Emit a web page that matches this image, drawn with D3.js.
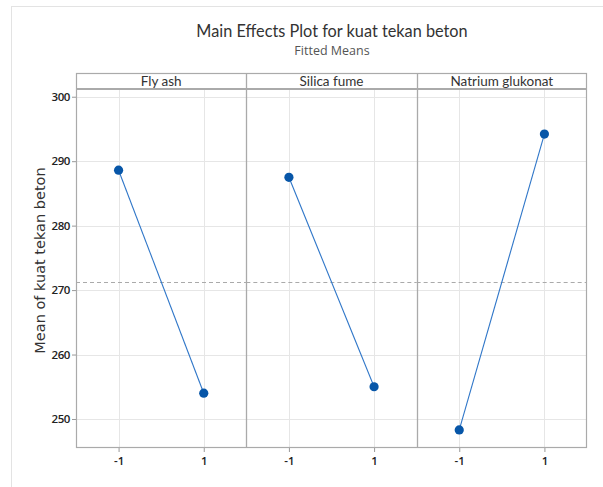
<!DOCTYPE html>
<html>
<head>
<meta charset="utf-8">
<script src="https://cdn.jsdelivr.net/npm/d3@7"></script>
<style>
  html, body { margin: 0; padding: 0; background: #fff; }
  svg { display: block; }
</style>
</head>
<body>
<script>
// Factors, their levels and the fitted means at each level
const factors = ["Fly ash", "Silica fume", "Natrium glukonat"];
const levels = [-1, 1];
const flyAshMeans = [288.6, 254.0];
const silicaFumeMeans = [287.5, 255.0];
const natriumMeans = [248.3, 294.2];
const overallMean = 271.2;
const yTicks = [250, 260, 270, 280, 290, 300];
const levelLabels = ["-1", "1"];

const seriesByFactor = [flyAshMeans, silicaFumeMeans, natriumMeans];

const W = 603, H = 487;
const plot = { left: 76, right: 587, top: 89, bottom: 448, stripTop: 73 };
const panelW = (plot.right - plot.left) / factors.length;

const svg = d3.select("body").append("svg")
  .attr("width", W).attr("height", H);

// page frame
svg.append("line").attr("x1", 11).attr("x2", W).attr("y1", 6.5).attr("y2", 6.5)
  .attr("stroke", "#e3e3e3").attr("stroke-width", 1);
svg.append("line").attr("x1", 11.5).attr("x2", 11.5).attr("y1", 6).attr("y2", H)
  .attr("stroke", "#e3e3e3").attr("stroke-width", 1);

// titles
svg.append("text").attr("x", 332).attr("y", 37)
  .attr("text-anchor", "middle")
  .style("font-family", "Lato, 'Open Sans', sans-serif")
  .style("font-size", "16.3px").style("fill", "#333")
  .text("Main Effects Plot for kuat tekan beton");
svg.append("text").attr("x", 332).attr("y", 55)
  .attr("text-anchor", "middle")
  .style("font-family", "'Open Sans', 'Noto Sans', sans-serif")
  .style("font-size", "12.5px").style("fill", "#555")
  .text("Fitted Means");

const y = d3.scaleLinear().domain([245.5, 301.2]).range([plot.bottom, plot.top]);

const tickFont = "'Open Sans', 'Noto Sans', sans-serif";

// horizontal grid across all panels
svg.append("g").selectAll("line").data(yTicks).join("line")
  .attr("x1", plot.left).attr("x2", plot.right)
  .attr("y1", d => Math.round(y(d)) + 0.5).attr("y2", d => Math.round(y(d)) + 0.5)
  .attr("stroke", "#e6e6e6").attr("stroke-width", 1);

// y axis
const yAxis = svg.append("g").attr("transform", `translate(${plot.left},0)`)
  .call(d3.axisLeft(y).tickValues(yTicks).tickSize(4).tickPadding(2).tickFormat(d3.format("d")));
yAxis.select(".domain").remove();
yAxis.selectAll(".tick line").attr("stroke", "#999");
yAxis.selectAll("text")
  .style("font-family", tickFont).style("font-size", "11.5px").style("fill", "#222")
  .style("font-weight", "600").attr("letter-spacing", "-0.4");

// y axis title
svg.append("text")
  .attr("transform", `translate(45,${(plot.top + plot.bottom) / 2 - 8}) rotate(-90)`)
  .attr("text-anchor", "middle")
  .style("font-family", "'DejaVu Sans', sans-serif")
  .style("font-size", "14.5px").style("fill", "#333")
  .text("Mean of kuat tekan beton");

const line = d3.line();

factors.forEach((name, i) => {
  const x0 = plot.left + i * panelW;
  const x = d3.scaleLinear().domain([-2, 2]).range([x0, x0 + panelW]);
  const g = svg.append("g");

  // vertical grid at the levels
  g.selectAll("line.vg").data(levels).join("line")
    .attr("class", "vg")
    .attr("x1", d => Math.round(x(d)) + 0.5).attr("x2", d => Math.round(x(d)) + 0.5)
    .attr("y1", plot.top).attr("y2", plot.bottom)
    .attr("stroke", "#e6e6e6").attr("stroke-width", 1);

  // overall mean reference line
  g.append("line")
    .attr("x1", x0).attr("x2", x0 + panelW)
    .attr("y1", Math.round(y(overallMean)) + 0.5).attr("y2", Math.round(y(overallMean)) + 0.5)
    .attr("stroke", "#aaa").attr("stroke-width", 1).attr("stroke-dasharray", "4,3");

  // x axis
  const xAxis = g.append("g").attr("transform", `translate(0,${plot.bottom})`)
    .call(d3.axisBottom(x).tickValues(levels).tickSize(4).tickPadding(5)
      .tickFormat((d, k) => levelLabels[k]));
  xAxis.select(".domain").remove();
  xAxis.selectAll(".tick line").attr("stroke", "#999");
  xAxis.selectAll("text")
    .style("font-family", tickFont).style("font-size", "11.5px").style("fill", "#222")
    .style("font-weight", "600");

  // strip header label
  g.append("text").attr("x", x0 + panelW / 2).attr("y", 86)
    .attr("text-anchor", "middle")
    .style("font-family", "Lato, 'Open Sans', sans-serif").style("font-size", "13.5px").style("fill", "#333")
    .text(name);

  const vals = seriesByFactor[i];
  const pts = levels.map((l, k) => [x(l), y(vals[k])]);
  g.append("path").attr("d", line(pts))
    .attr("fill", "none").attr("stroke", "#2f76c8").attr("stroke-width", 1.1);
  g.selectAll("circle").data(pts).join("circle")
    .attr("cx", d => d[0]).attr("cy", d => d[1]).attr("r", 4.6)
    .attr("fill", "#0756a8");
});

// panel frame, strip and separators
const frame = svg.append("g").attr("fill", "none").attr("stroke", "#aaa");
frame.append("rect")
  .attr("x", plot.left + 0.5).attr("y", plot.stripTop + 0.5)
  .attr("width", plot.right - plot.left - 1).attr("height", plot.bottom - plot.stripTop - 1)
  .attr("stroke-width", 1.2);
frame.append("line")
  .attr("x1", plot.left).attr("x2", plot.right)
  .attr("y1", plot.top).attr("y2", plot.top)
  .attr("stroke-width", 2);
for (let i = 1; i < factors.length; i++) {
  const xs = Math.round(plot.left + i * panelW) + 0.5;
  frame.append("line").attr("x1", xs).attr("x2", xs)
    .attr("y1", plot.stripTop).attr("y2", plot.bottom)
    .attr("stroke-width", 1.3);
}
</script>
</body>
</html>
